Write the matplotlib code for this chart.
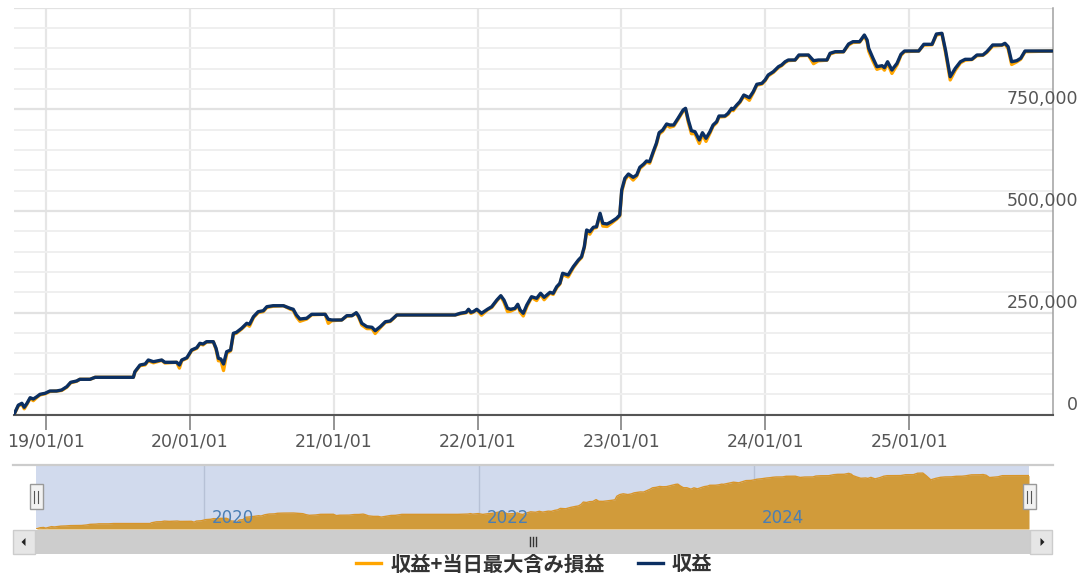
import matplotlib
matplotlib.use("Agg")
import matplotlib.pyplot as plt
import matplotlib.dates as mdates
import matplotlib.transforms as mtrans
from matplotlib.lines import Line2D
from matplotlib.patches import Rectangle, Polygon
import pandas as pd

# ---------------- data ----------------
dates = [
    "2018-10-12", "2018-10-23", "2018-11-01", "2018-11-07", "2018-11-14", "2018-11-22",
    "2018-11-30", "2018-12-09", "2018-12-17", "2018-12-30", "2019-01-11", "2019-01-28",
    "2019-02-10", "2019-02-23", "2019-03-05", "2019-03-20", "2019-03-28", "2019-04-23",
    "2019-05-06", "2019-08-11", "2019-08-15", "2019-08-28", "2019-09-10", "2019-09-18",
    "2019-10-01", "2019-10-22", "2019-10-30", "2019-11-29", "2019-12-06", "2019-12-12",
    "2019-12-25", "2020-01-06", "2020-01-19", "2020-01-27", "2020-02-04", "2020-02-13",
    "2020-03-01", "2020-03-08", "2020-03-14", "2020-03-20", "2020-03-27", "2020-04-04",
    "2020-04-14", "2020-04-21", "2020-04-29", "2020-05-12", "2020-05-25", "2020-06-01",
    "2020-06-11", "2020-06-23", "2020-07-06", "2020-07-15", "2020-07-31", "2020-08-26",
    "2020-09-12", "2020-09-20", "2020-09-28", "2020-10-07", "2020-10-24", "2020-11-06",
    "2020-12-10", "2020-12-18", "2020-12-27", "2021-01-21", "2021-02-03", "2021-02-16",
    "2021-02-27", "2021-03-05", "2021-03-13", "2021-03-26", "2021-04-08", "2021-04-16",
    "2021-04-29", "2021-05-12", "2021-05-24", "2021-06-01", "2021-06-10", "2021-11-05",
    "2021-11-18", "2021-12-03", "2021-12-09", "2021-12-15", "2021-12-21", "2021-12-30",
    "2022-01-11", "2022-01-26", "2022-02-06", "2022-02-19", "2022-03-01", "2022-03-09",
    "2022-03-18", "2022-03-26", "2022-04-06", "2022-04-13", "2022-04-19", "2022-04-27",
    "2022-05-06", "2022-05-18", "2022-05-31", "2022-06-10", "2022-06-19", "2022-07-04",
    "2022-07-12", "2022-07-21", "2022-07-29", "2022-08-05", "2022-08-19", "2022-09-01",
    "2022-09-14", "2022-09-22", "2022-09-29", "2022-10-05", "2022-10-13", "2022-10-22",
    "2022-10-30", "2022-11-08", "2022-11-15", "2022-11-26", "2022-12-07", "2022-12-20",
    "2022-12-28", "2023-01-02", "2023-01-10", "2023-01-19", "2023-01-31", "2023-02-09",
    "2023-02-17", "2023-02-27", "2023-03-06", "2023-03-14", "2023-03-23", "2023-03-31",
    "2023-04-07", "2023-04-16", "2023-04-26", "2023-05-04", "2023-05-14", "2023-05-25",
    "2023-06-07", "2023-06-13", "2023-06-20", "2023-06-28", "2023-07-07", "2023-07-18",
    "2023-07-26", "2023-08-04", "2023-08-14", "2023-08-22", "2023-08-31", "2023-09-06",
    "2023-09-21", "2023-09-29", "2023-10-08", "2023-10-12", "2023-10-21", "2023-10-29",
    "2023-11-08", "2023-11-22", "2023-12-02", "2023-12-11", "2023-12-24", "2024-01-01",
    "2024-01-09", "2024-01-22", "2024-02-04", "2024-02-12", "2024-02-21", "2024-02-29",
    "2024-03-17", "2024-03-27", "2024-04-20", "2024-05-03", "2024-05-15", "2024-06-06",
    "2024-06-14", "2024-06-27", "2024-07-18", "2024-07-31", "2024-08-11", "2024-08-28",
    "2024-09-09", "2024-09-16", "2024-09-20", "2024-10-01", "2024-10-11", "2024-10-24",
    "2024-10-30", "2024-11-07", "2024-11-18", "2024-12-01", "2024-12-11", "2024-12-20",
    "2025-01-25", "2025-02-07", "2025-02-28", "2025-03-11", "2025-03-25", "2025-04-03",
    "2025-04-15", "2025-04-28", "2025-05-11", "2025-05-23", "2025-06-09", "2025-06-22",
    "2025-07-07", "2025-07-17", "2025-08-01", "2025-08-24", "2025-09-01", "2025-09-09",
    "2025-09-18", "2025-10-01", "2025-10-11", "2025-10-22", "2026-01-01",
]

# 収益
profit = [
    0, 23000, 27500, 17700, 27500, 41300,
    38100, 43700, 49600, 52100, 57700, 57700,
    60200, 68300, 79100, 82300, 86500, 86500,
    91400, 91400, 105200, 121600, 124100, 133900,
    129700, 133900, 128300, 128300, 121600, 133900,
    139600, 158500, 164100, 174900, 173200, 178900,
    178900, 162700, 138100, 136400, 124100, 154300,
    158500, 199500, 202000, 211800, 224100, 221600,
    240300, 252600, 255000, 264900, 267300, 267300,
    260900, 258500, 244500, 234600, 236400, 246200,
    246200, 233900, 232200, 232200, 242800, 242800,
    250100, 242000, 224100, 215700, 214300, 205900,
    215700, 228000, 229700, 236400, 244500, 244500,
    248700, 251100, 258500, 251100, 252600, 258500,
    248700, 258500, 264900, 281300, 291900, 281300,
    260900, 258500, 260900, 270800, 256800, 248700,
    269000, 289400, 285500, 297800, 288000, 300200,
    297800, 314000, 322400, 346900, 342800, 363100,
    379600, 387700, 412300, 453300, 449100, 460000,
    461400, 494400, 469800, 468100, 473700, 482100,
    490200, 551600, 580300, 590900, 582800, 588500,
    607400, 615500, 622900, 621100, 645700, 666300,
    692400, 699000, 713800, 711300, 711300, 727800,
    748200, 752300, 723600, 697300, 694800, 674500,
    692400, 678600, 694800, 711300, 719400, 733400,
    733400, 740000, 752300, 749900, 760400, 768600,
    785000, 778400, 793100, 811300, 813800, 821900,
    834200, 842300, 854600, 858700, 866800, 871000,
    871000, 883300, 883300, 869300, 871000, 871000,
    887500, 891400, 891400, 910300, 916000, 916000,
    932400, 920100, 899800, 875200, 854600, 857000,
    852100, 866800, 846400, 862900, 885000, 893100,
    893100, 909600, 909600, 934900, 936600, 895600,
    830000, 850600, 866800, 872700, 872700, 883300,
    883300, 891400, 907900, 907900, 912000, 903700,
    866800, 869300, 875200, 893100, 893100,
]

# 収益+当日最大含み損益
profit_with_dd = [
    0, 21000, 25500, 14000, 25500, 39500,
    34000, 42000, 48000, 51000, 56500, 57700,
    59000, 67000, 78000, 81500, 86500, 86500,
    91400, 91400, 104000, 120000, 122000, 132000,
    127000, 133000, 126500, 128300, 114000, 132500,
    138000, 157000, 162500, 173500, 171000, 178000,
    178900, 160000, 132000, 133000, 108000, 150000,
    156500, 197000, 200000, 210000, 222000, 217000,
    238000, 250500, 253000, 263000, 266000, 267300,
    259000, 256000, 240000, 229000, 234500, 245000,
    246200, 224000, 230500, 232200, 241500, 242800,
    249000, 239000, 220000, 211000, 211000, 199000,
    213500, 226500, 228500, 235500, 244500, 244500,
    247500, 250000, 257000, 248500, 251500, 257500,
    244000, 257000, 263000, 279500, 290500, 276000,
    253000, 254000, 259000, 269000, 252000, 242000,
    265000, 287500, 280000, 295500, 282000, 298500,
    295000, 311500, 320500, 344000, 338000, 360500,
    377500, 385500, 410000, 450500, 443000, 457500,
    459500, 491500, 463000, 462000, 470000, 480000,
    488000, 548000, 576000, 588500, 576000, 585500,
    604500, 613000, 620000, 617500, 642500, 663500,
    689000, 696000, 711000, 706000, 708500, 725000,
    745500, 750000, 718000, 690000, 690000, 666000,
    688000, 671000, 691000, 708500, 717000, 731000,
    732000, 737500, 750000, 746500, 758000, 766500,
    782500, 772000, 790500, 809000, 812000, 820000,
    832000, 840500, 852500, 857000, 865000, 869500,
    870500, 881500, 882500, 862000, 869000, 870500,
    885500, 890000, 891000, 908000, 914000, 915000,
    930000, 916000, 893000, 868000, 848000, 853000,
    846000, 863000, 838000, 859000, 882500, 891500,
    893100, 907500, 908500, 932500, 935000, 890000,
    822000, 846000, 864000, 870500, 872000, 881500,
    882500, 889500, 905500, 907000, 910500, 899000,
    860000, 866500, 873000, 891500, 893100,
]

ytick_values = [0, 250000, 500000, 750000]
ytick_labels = ["0", "250,000", "500,000", "750,000"]
xtick_dates = ["2019-01-01", "2020-01-01", "2021-01-01", "2022-01-01",
               "2023-01-01", "2024-01-01", "2025-01-01"]
nav_years = ["2020", "2022", "2024"]
legend_labels = ["収益+当日最大含み損益", "収益"]

# ---------------- styling ----------------
ORANGE = "#FFA500"
NAVY = "#0b2f62"
CJK = ["Noto Sans CJK JP", "DejaVu Sans"]

W, H = 1086, 581
fig = plt.figure(figsize=(W / 100, H / 100), dpi=100)
fig.patch.set_facecolor("white")


def fx(px):
    return px / W


def fy(py):
    return 1 - py / H


x = pd.to_datetime(dates)
xmin, xmax = x[0], x[-1]

# ---------------- main chart ----------------
ax = fig.add_axes([fx(14), fy(414.5), fx(1053) - fx(14), (414.5 - 7.5) / H])
ax.set_xlim(xmin, xmax)
ax.set_ylim(0, 1000000)

ax.set_yticks(range(0, 1000001, 250000))
ax.set_yticks(range(0, 1000001, 50000), minor=True)
ax.grid(axis="y", which="minor", color="#efefef", lw=1.4, zorder=0)
ax.grid(axis="y", which="major", color="#e2e2e2", lw=1.6, zorder=0)
ax.tick_params(axis="y", which="both", left=False, right=False,
               labelleft=False, labelright=False)

xt = pd.to_datetime(xtick_dates)
ax.set_xticks(xt)
ax.xaxis.set_major_formatter(mdates.DateFormatter("%y/%m/%d"))
ax.grid(axis="x", which="major", color="#e6e6e6", lw=1.6, zorder=0)
ax.tick_params(axis="x", which="major", direction="out", length=11, width=1.1,
               color="#777777", pad=2, labelsize=12.5, labelcolor="#555555")
ax.set_axisbelow(True)

for s in ["top", "left"]:
    ax.spines[s].set_visible(False)
ax.spines["bottom"].set_color("#555555")
ax.spines["bottom"].set_linewidth(1.5)
ax.spines["right"].set_color("#a0a0a0")
ax.spines["right"].set_linewidth(1.1)

ax.plot(x, profit_with_dd, color=ORANGE, lw=2.4, solid_joinstyle="round", zorder=3)
ax.plot(x, profit, color=NAVY, lw=2.4, solid_joinstyle="round", zorder=4)

# y labels on the right, sitting slightly above their grid lines
ylab_tr = mtrans.blended_transform_factory(fig.transFigure, ax.transData) + \
    mtrans.ScaledTranslation(0, 10 / 100, fig.dpi_scale_trans)
for v, lab in zip(ytick_values, ytick_labels):
    ax.text(fx(1078), v, lab, transform=ylab_tr, ha="right", va="center",
            fontsize=12.5, color="#555555", clip_on=False)

# ---------------- navigator ----------------
nav = fig.add_axes([fx(36), fy(529), fx(1029) - fx(36), 64 / H])
nav.set_facecolor("#d1daed")
nav.set_xlim(xmin, xmax)
nav.set_ylim(0, 1070000)
nav.fill_between(x, profit_with_dd, 0, color="#d19b3a", lw=0, zorder=2)
nav.plot(x, profit_with_dd, color="#d8952a", lw=1.0, zorder=3)
for s in nav.spines.values():
    s.set_visible(False)
nav.set_xticks([])
nav.set_yticks([])
for yr in nav_years:
    d = pd.Timestamp(f"{yr}-01-01")
    nav.axvline(d, color="#b7c1d6", lw=1.0, zorder=1)
    tr = mtrans.blended_transform_factory(nav.transData, nav.transAxes) + \
        mtrans.ScaledTranslation(8 / 100, 0, fig.dpi_scale_trans)
    nav.text(d, 11 / 64, yr, transform=tr, ha="left", va="center",
             fontsize=12, color="#4a7eb4", zorder=5)

# navigator top outline
fig.add_artist(Line2D([fx(13), fx(1053)], [fy(465), fy(465)],
                      color="#cccccc", lw=1.6, transform=fig.transFigure))

# handles
def handle(cx):
    fig.add_artist(Rectangle((fx(cx - 6.5), fy(509)), 13 / W, 25 / H,
                             transform=fig.transFigure, facecolor="#f2f2f2",
                             edgecolor="#999999", lw=1.0, zorder=10))
    for dx in (-1.6, 1.6):
        fig.add_artist(Line2D([fx(cx + dx), fx(cx + dx)], [fy(491), fy(503)],
                              color="#555555", lw=0.8, transform=fig.transFigure,
                              zorder=11))


handle(36)
handle(1029)

# scrollbar
fig.add_artist(Rectangle((fx(13), fy(554)), (1053 - 13) / W, 24 / H,
                         transform=fig.transFigure, facecolor="#cdcdcd",
                         edgecolor="none", zorder=5))
for bx0 in (13, 1030):
    fig.add_artist(Rectangle((fx(bx0), fy(554)), 22 / W, 24 / H,
                             transform=fig.transFigure, facecolor="#e6e6e6",
                             edgecolor="#cccccc", lw=1.0, zorder=6))
fig.add_artist(Polygon([[fx(21.5), fy(542)], [fx(25.5), fy(538)], [fx(25.5), fy(546)]],
                       closed=True, transform=fig.transFigure, facecolor="#222222",
                       edgecolor="none", zorder=7))
fig.add_artist(Polygon([[fx(1044.5), fy(542)], [fx(1040.5), fy(538)], [fx(1040.5), fy(546)]],
                       closed=True, transform=fig.transFigure, facecolor="#222222",
                       edgecolor="none", zorder=7))
for gx in (529.5, 532.5, 535.5):
    fig.add_artist(Line2D([fx(gx), fx(gx)], [fy(537), fy(546)], color="#333333",
                          lw=1.0, transform=fig.transFigure, zorder=7))

# ---------------- legend ----------------
ly = fy(562.5)
ty = fy(564)
fig.add_artist(Line2D([fx(356), fx(381)], [ly, ly], color=ORANGE, lw=2.4,
                      transform=fig.transFigure))
fig.text(fx(391), ty, legend_labels[0], ha="left", va="center", fontsize=14.6,
         fontweight="bold", color="#333333", family=CJK)
fig.add_artist(Line2D([fx(637.5), fx(662.5)], [ly, ly], color=NAVY, lw=2.4,
                      transform=fig.transFigure))
fig.text(fx(672), ty, legend_labels[1], ha="left", va="center", fontsize=14.6,
         fontweight="bold", color="#333333", family=CJK)

fig.savefig("out.png", dpi=100, facecolor="white")
